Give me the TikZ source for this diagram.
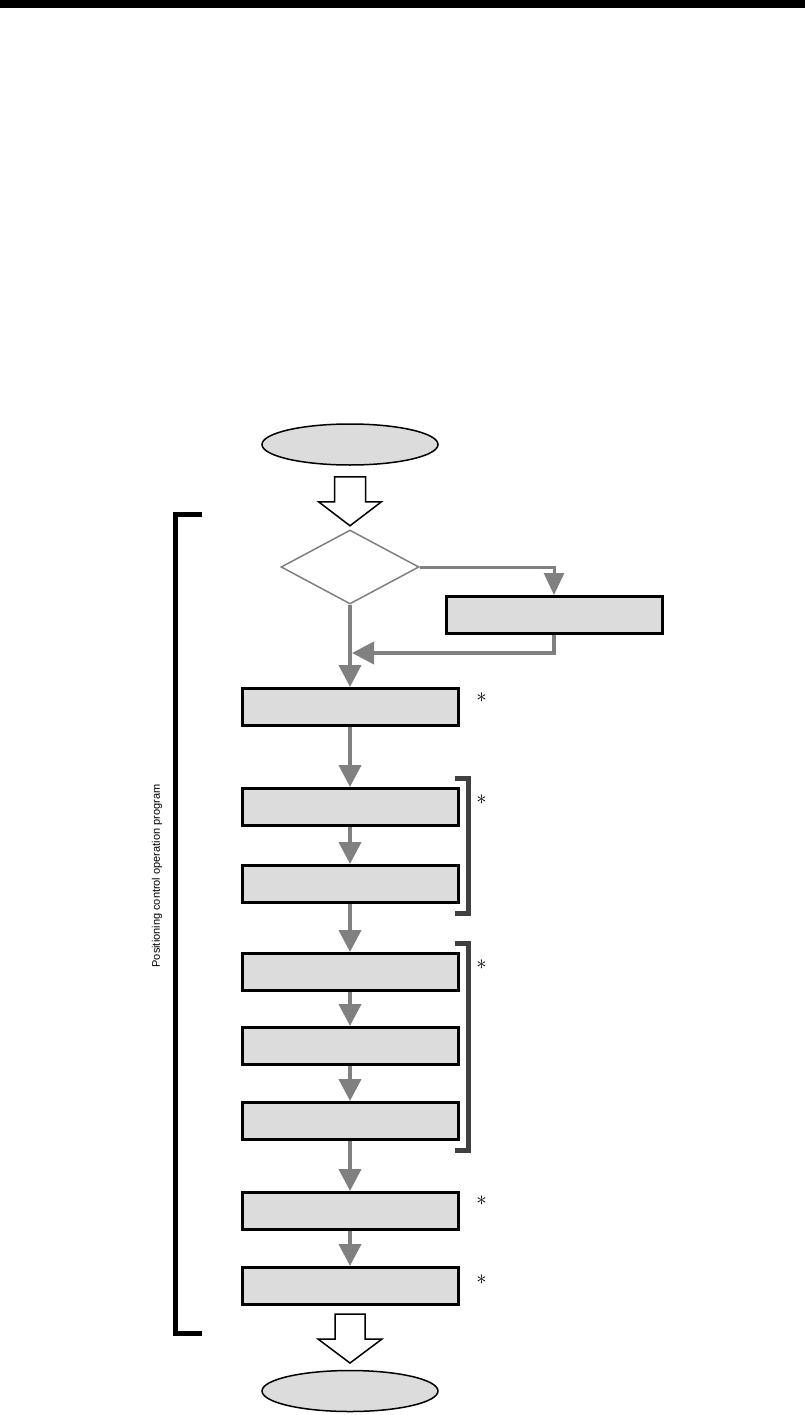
\documentclass[tikz,border=0pt]{standalone}
\usepackage{fontspec}
\newfontfamily\labelfont{Liberation Sans}
\usepackage{tikz}
\usetikzlibrary{arrows.meta,positioning,shapes.geometric,calc}
\definecolor{boxgray}{RGB}{220,220,220}
\definecolor{flowgray}{RGB}{128,128,128}
\definecolor{brkgray}{RGB}{64,64,64}

\begin{document}
\begin{tikzpicture}[x=1pt, y=-1pt,
  term/.style={ellipse, draw=black, line width=1.5pt, fill=boxgray,
               minimum width=176pt, minimum height=41pt, inner sep=0pt},
  stepbox/.style={rectangle, draw=black, line width=3pt, fill=boxgray,
                  minimum width=216pt, minimum height=37pt, inner sep=0pt},
  decide/.style={diamond, draw=flowgray, line width=1.5pt, fill=white,
                 minimum width=138pt, minimum height=74pt, inner sep=0pt},
  flow/.style={-{Triangle[length=22pt,width=22pt]}, line width=4pt, color=flowgray},
  branch/.style={-{Triangle[length=22pt,width=20pt]}, line width=3pt, color=flowgray},
  hollow/.style={draw=black, line width=1.5pt, fill=white, line join=miter},
  grpbrk/.style={draw=brkgray, line width=5pt},
  progbrk/.style={draw=black, line width=5pt},
  note/.style={font=\fontsize{22}{22}\selectfont, inner sep=0pt}
]
  \useasboundingbox (0,0) rectangle (805,1415);

  % Page header band
  \fill[black] (0,0) rectangle (805,8);

  % Start terminal and decision
  \node[term] (start) at (350,444.5) {};
  \node[decide] (dec) at (350,567) {};

  % Side step
  \node[stepbox] (side) at (554,615) {};

  % Main steps
  \node[stepbox] (b1) at (350,707) {};
  \node[stepbox, below=60pt of b1] (b2) {};
  \node[stepbox, below=37pt of b2] (b3) {};
  \node[stepbox, below=48pt of b3] (b4) {};
  \node[stepbox, below=34pt of b4] (b5) {};
  \node[stepbox, below=35pt of b5] (b6) {};
  \node[stepbox, below=50pt of b6] (b7) {};
  \node[stepbox, below=35pt of b7] (b8) {};

  % End terminal
  \node[term] (stop) at (350,1391) {};

  % Hollow arrows
  \draw[hollow] (start.south) ++(-15.5,11) -- ++(31,0) -- ++(0,25) -- ++(16,0)
    -- ++(-31.5,24) -- ++(-31.5,-24) -- ++(16,0) -- cycle;
  \draw[hollow] (b8.south) ++(-15,8) -- ++(30,0) -- ++(0,25) -- ++(17,0)
    -- ++(-32,24) -- ++(-32,-24) -- ++(17,0) -- cycle;

  % Branch and return
  \draw[branch] (dec.east) -- (dec.east -| side.north) -- (side.north);
  \coordinate (join) at ($(b1.north)+(2,-34)$);
  \draw[flow] (side.south) |- (join);

  % Arrows
  \draw[flow] (dec.south) -- (b1.north);
  \draw[flow] (b1) -- (b2);
  \draw[flow] (b2) -- (b3);
  \draw[flow] (b3) -- (b4);
  \draw[flow] (b4) -- (b5);
  \draw[flow] (b5) -- (b6);
  \draw[flow] (b6) -- (b7);
  \draw[flow] (b7) -- (b8);

  % Group brackets
  \draw[grpbrk] ($(b2.north east)+(-5,-8.5)$) -- ++(14,0) |- ($(b3.south east)+(-5,9.5)$);
  \draw[grpbrk] ($(b4.north east)+(-5,-8.5)$) -- ++(14,0) |- ($(b6.south east)+(-5,9.5)$);

  % Notes
  \node[note] (n1) at ($(b1.east)+(22,-9)$) {$\ast$};
  \node[note] (n2) at ($(b2.east)+(22,-7)$) {$\ast$};
  \node[note] (n3) at ($(b4.east)+(22,-7)$) {$\ast$};
  \node[note] (n4) at ($(b7.east)+(22,-10)$) {$\ast$};
  \node[note] (n5) at ($(b8.east)+(22,-6)$) {$\ast$};

  % Program bracket
  \draw[progbrk] (202,514.5) -| (175.5,1333.5) -- (202,1333.5);
  \node[rotate=90, font=\labelfont\fontsize{11}{11}\selectfont] (prog) at (157,876)
    {Positioning control operation program};

\end{tikzpicture}
\end{document}
